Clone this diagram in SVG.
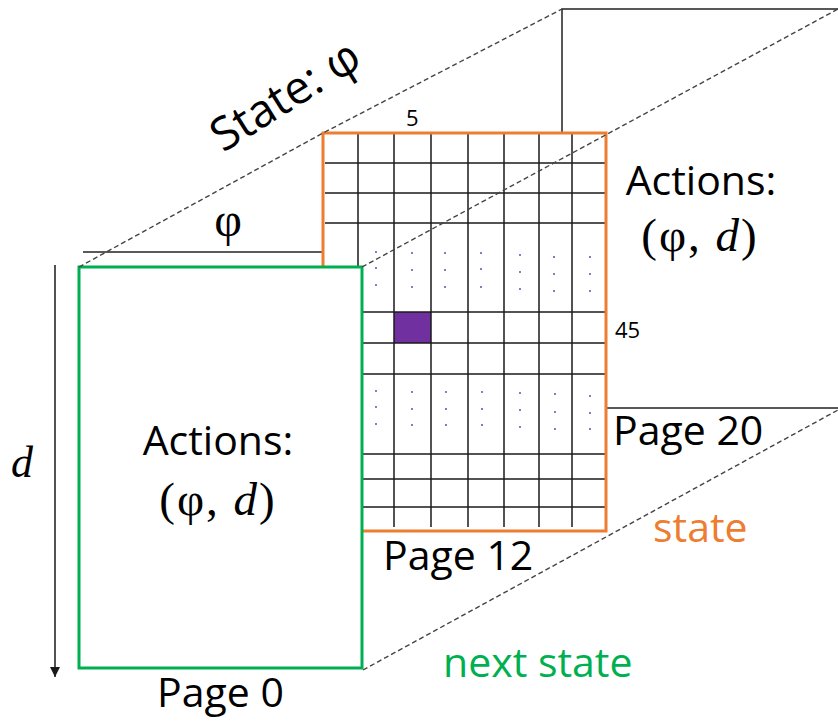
<svg xmlns="http://www.w3.org/2000/svg" width="838" height="725" viewBox="0 0 838 725">
  <style>
    .sans { font-family: "Open Sans", "Liberation Sans", sans-serif; }
    .serif { font-family: "Liberation Serif", "DejaVu Serif", serif; }
    .page { fill: #ffffff; stroke: #222222; stroke-width: 1.5; }
    .grid line { stroke: #1a1a1a; stroke-width: 1.5; }
    .dash { fill: none; stroke: #444444; stroke-width: 1.4; stroke-dasharray: 5 3; }
    .dots circle { fill: #3a4a9a; }
  </style>
  <defs>
    <marker id="arrow" viewBox="0 0 10 10" refX="10" refY="5" markerWidth="10" markerHeight="10" markerUnits="userSpaceOnUse" orient="auto">
      <path d="M0,0 L10,5 L0,10 z" fill="#1a1a1a"/>
    </marker>
  </defs>
  <rect width="838" height="725" fill="#ffffff"/>

  <!-- back page (Page 20) -->
  <g id="page20">
    <rect class="page" x="562" y="9" width="300" height="399"/>
    <text class="sans" x="613" y="445" font-size="41" fill="#000">Page 20</text>
  </g>

  <!-- edge of an intermediate page -->
  <line x1="83" y1="252" x2="323" y2="252" stroke="#222" stroke-width="1.5"/>

  <!-- middle page (Page 12) with action grid -->
  <g id="page12">
    <rect x="323" y="133" width="283" height="398" fill="#ffffff"/>
    <rect x="394" y="312" width="37" height="31" fill="#7030A0"/>
    <g class="grid">
      <line x1="358" y1="133" x2="358" y2="527"/>
      <line x1="394" y1="133" x2="394" y2="527"/>
      <line x1="431" y1="133" x2="431" y2="527"/>
      <line x1="468" y1="133" x2="468" y2="527"/>
      <line x1="504" y1="133" x2="504" y2="527"/>
      <line x1="539" y1="133" x2="539" y2="527"/>
      <line x1="572" y1="133" x2="572" y2="527"/>
      <line x1="325" y1="163" x2="606" y2="163"/>
      <line x1="325" y1="193" x2="606" y2="193"/>
      <line x1="325" y1="223" x2="606" y2="223"/>
      <line x1="325" y1="312" x2="606" y2="312"/>
      <line x1="325" y1="343" x2="606" y2="343"/>
      <line x1="325" y1="374" x2="606" y2="374"/>
      <line x1="325" y1="454" x2="606" y2="454"/>
      <line x1="325" y1="479" x2="606" y2="479"/>
      <line x1="325" y1="507" x2="606" y2="507"/>
    </g>
    <g class="dots">
      <circle cx="376" cy="252" r="0.9"/><circle cx="376" cy="268" r="0.9"/><circle cx="376" cy="285" r="0.9"/>
      <circle cx="412" cy="253" r="0.9"/><circle cx="412" cy="270" r="0.9"/><circle cx="412" cy="287" r="0.9"/>
      <circle cx="445" cy="253" r="0.9"/><circle cx="445" cy="270" r="0.9"/><circle cx="445" cy="287" r="0.9"/>
      <circle cx="481" cy="253" r="0.9"/><circle cx="481" cy="269" r="0.9"/><circle cx="481" cy="287" r="0.9"/>
      <circle cx="520" cy="255" r="0.9"/><circle cx="520" cy="272" r="0.9"/><circle cx="520" cy="289" r="0.9"/>
      <circle cx="554" cy="257" r="0.9"/><circle cx="554" cy="274" r="0.9"/><circle cx="554" cy="291" r="0.9"/>
      <circle cx="590" cy="257" r="0.9"/><circle cx="590" cy="274" r="0.9"/><circle cx="590" cy="291" r="0.9"/>
      <circle cx="376" cy="391" r="0.9"/><circle cx="376" cy="407" r="0.9"/><circle cx="376" cy="424" r="0.9"/>
      <circle cx="412" cy="392" r="0.9"/><circle cx="412" cy="409" r="0.9"/><circle cx="412" cy="425" r="0.9"/>
      <circle cx="446" cy="392" r="0.9"/><circle cx="446" cy="409" r="0.9"/><circle cx="446" cy="425" r="0.9"/>
      <circle cx="482" cy="392" r="0.9"/><circle cx="482" cy="409" r="0.9"/><circle cx="482" cy="425" r="0.9"/>
      <circle cx="520" cy="393" r="0.9"/><circle cx="520" cy="410" r="0.9"/><circle cx="520" cy="427" r="0.9"/>
      <circle cx="555" cy="394" r="0.9"/><circle cx="555" cy="412" r="0.9"/><circle cx="555" cy="429" r="0.9"/>
      <circle cx="590" cy="396" r="0.9"/><circle cx="590" cy="413" r="0.9"/><circle cx="590" cy="429" r="0.9"/>
    </g>
    <rect x="323" y="133" width="283" height="398" fill="none" stroke="#ED7D31" stroke-width="3"/>
    <text class="sans" x="406" y="126" font-size="22" fill="#000">5</text>
    <text class="sans" x="615" y="338" font-size="22" fill="#000">45</text>
    <text class="sans" x="383" y="570" font-size="41" fill="#000">Page 12</text>
  </g>

  <!-- front page (Page 0) -->
  <g id="page0">
    <rect x="79" y="267" width="283" height="401" fill="#ffffff" stroke="#00B050" stroke-width="3"/>
    <text class="sans" x="157" y="707" font-size="41" fill="#000">Page 0</text>
  </g>

  <!-- perspective connectors and the depth axis -->
  <g id="connectors">
    <polyline class="dash" points="79,267 323,133 562,9"/>
    <line class="dash" x1="362" y1="267" x2="838" y2="9"/>
    <line class="dash" x1="363" y1="670" x2="838" y2="410"/>
    <line x1="55" y1="265" x2="55" y2="677" stroke="#1a1a1a" stroke-width="1.5" marker-end="url(#arrow)"/>
  </g>

  <!-- labels -->
  <g id="labels">
    <text class="sans" transform="translate(223,153) rotate(-32)" font-size="46" fill="#000">State: φ</text>
    <text class="serif" x="228" y="236" font-size="48" text-anchor="middle" fill="#000">φ</text>
    <text class="serif" x="22" y="477" font-size="44" font-style="italic" text-anchor="middle" fill="#000">d</text>

    <text class="sans" x="218" y="455" font-size="41" text-anchor="middle" fill="#000">Actions:</text>
    <text class="serif" x="218" y="515" font-size="47" letter-spacing="2" text-anchor="middle" fill="#000">(φ, <tspan font-style="italic">d</tspan>)</text>

    <text class="sans" x="701" y="195" font-size="41" text-anchor="middle" fill="#000">Actions:</text>
    <text class="serif" x="700" y="251" font-size="47" letter-spacing="2" text-anchor="middle" fill="#000">(φ, <tspan font-style="italic">d</tspan>)</text>

    <text class="sans" x="653" y="542" font-size="41" fill="#ED7D31">state</text>
    <text class="sans" x="443" y="677" font-size="41" fill="#00B050">next state</text>
  </g>
</svg>
